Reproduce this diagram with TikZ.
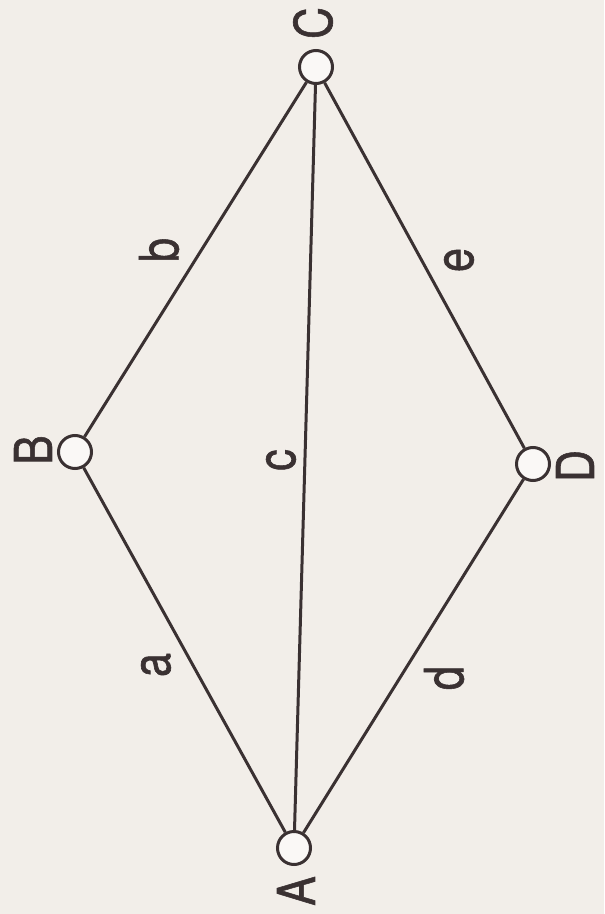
\documentclass[tikz,border=0pt]{standalone}
\usepackage{fontspec}
\setmainfont{TeX Gyre Heros}
\newfontfamily\labfont[FakeBold=1.2]{TeX Gyre Heros}
\usepackage{xcolor}
\usepackage{tikz}
\usetikzlibrary{positioning}
\definecolor{paper}{HTML}{F2EEE9}
\definecolor{ink}{HTML}{3A3132}

\begin{document}
\begin{tikzpicture}[
  x=0.5pt, y=-0.5pt,
  vertex/.style={circle, draw=ink, fill=white!60!paper, line width=1.5pt,
                 minimum size=16.5pt, inner sep=0pt},
  vlab/.style={text=ink, rotate=90, xscale=0.85, inner sep=0pt,
               font=\labfont\fontsize{26}{28}\selectfont},
  elab/.style={text=ink, rotate=90, xscale=0.8, inner sep=0pt,
               font=\labfont\fontsize{27}{29}\selectfont},
  edge/.style={draw=ink, line width=1.5pt}
]
\fill[paper] (0,0) rectangle (604,914);
\useasboundingbox (0,0) rectangle (604,914);

% vertices
\node (C) [vertex] at (316,67) {};
\node (B) [vertex] at (75,452) {};
\node (D) [vertex] at (533,464) {};
\node (A) [vertex] at (294,848) {};

% vertex names
\node (labC) [vlab] at (313,23) {C};
\node (labB) [vlab] at (33,450) {B};
\node (labD) [vlab] at (575,466) {D};
\node (labA) [vlab] at (296,891) {A};

% edges
\draw [edge] (A) -- (B);
\draw [edge] (B) -- (C);
\draw [edge] (A) -- (C);
\draw [edge] (A) -- (D);
\draw [edge] (D) -- (C);

% edge names
\node (laba) [elab] at (156,665) {a};
\node (labb) [elab] at (159,250) {b};
\node (labc) [elab] at (281,460) {c};
\node (labd) [elab] at (444,678) {d};
\node (labe) [elab] at (459,260) {e};
\end{tikzpicture}
\end{document}
